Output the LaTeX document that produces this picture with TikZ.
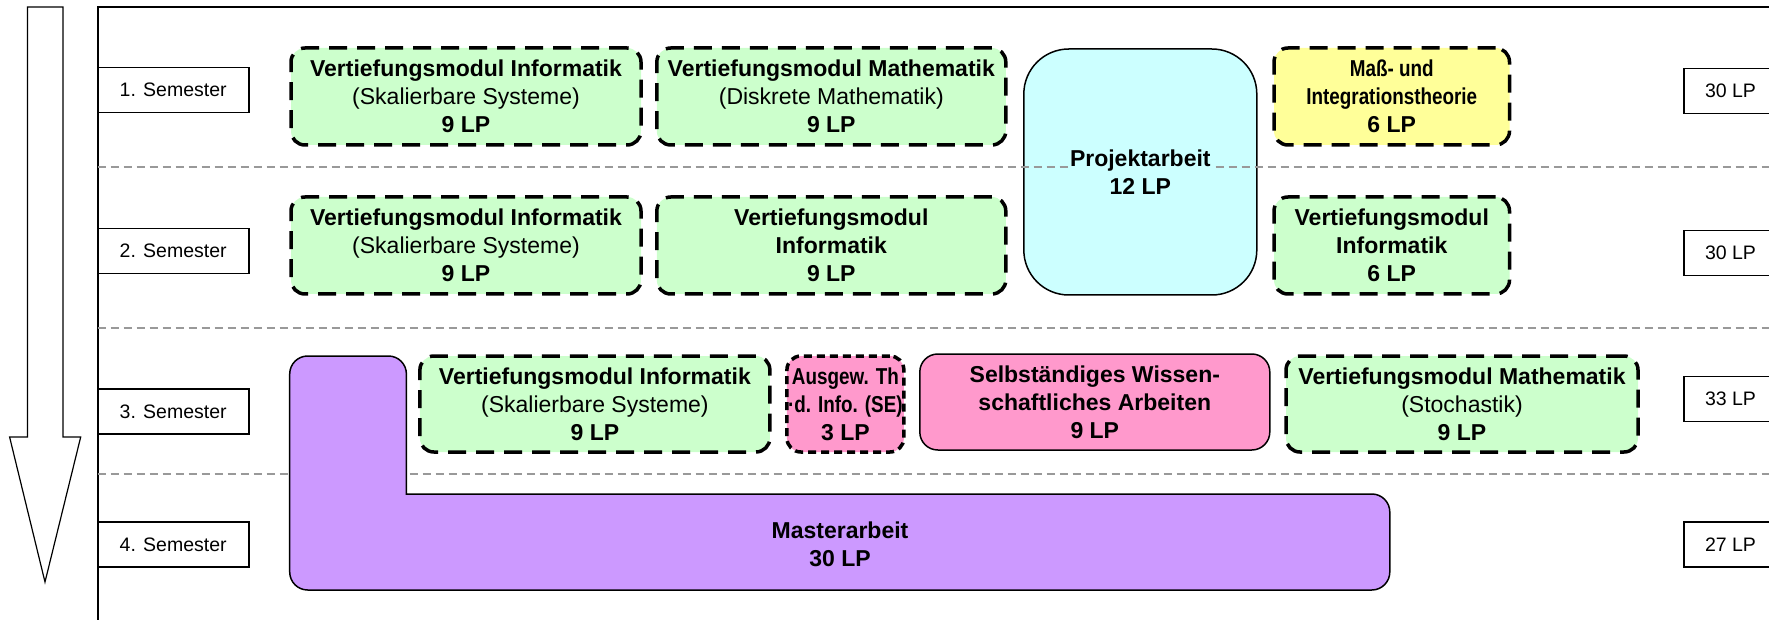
\documentclass[tikz,border=0pt]{standalone}
\usepackage{fontspec}
\setmainfont{Liberation Sans}
\newfontfamily\narrowfont[FakeStretch=0.82]{Liberation Sans}
\definecolor{modgreen}{HTML}{CCFFCC}
\definecolor{modyellow}{HTML}{FFFF99}
\definecolor{modcyan}{HTML}{CCFFFF}
\definecolor{modpink}{HTML}{FF99CC}
\definecolor{modpurple}{HTML}{CC99FF}
\definecolor{sepgray}{HTML}{999999}
\newcommand\modfont{\fontsize{23}{28}\selectfont\bfseries}
\newcommand\lblfont{\fontsize{19.5}{23}\selectfont}
\tikzset{
  dmod/.style={draw=black, line width=3.5pt, dash pattern=on 18pt off 10pt,
    rounded corners=14pt, align=center, inner sep=0pt, font=\modfont, minimum height=97pt},
  dmodsmall/.style={dmod, dash pattern=on 8pt off 5pt},
  smod/.style={draw=black, line width=1.5pt, align=center, inner sep=0pt, font=\modfont},
  lbl/.style={draw=black, line width=1.8pt, fill=white, inner sep=0pt, font=\lblfont, minimum height=45pt},
  sepline/.style={draw=sepgray, line width=1.5pt, dash pattern=on 8pt off 5pt},
  frameline/.style={line width=2pt},
}
\begin{document}
\begin{tikzpicture}[x=1pt,y=-1pt]
\useasboundingbox (0,0) rectangle (1769,620);
% arrow
\draw[line width=1.2pt, fill=white] (27.5,7) -- (63,7) -- (63,437) -- (80.7,437) -- (45,582) -- (9.6,437) -- (27.5,437) -- cycle;
% frame
\draw[frameline] (97.6,630) -- (97.6,6.7) -- (1780,6.7);
% Projektarbeit box (under separators)
\node[smod, fill=modcyan, rounded corners=45pt, minimum width=233pt, minimum height=246pt] (proj) at (1140.3,172) {};
% separators
\coordinate (s1l) at (97.6,167); \coordinate (s1r) at (1769,167);
\coordinate (s2l) at (97.6,328); \coordinate (s2r) at (1769,328);
\coordinate (s3l) at (97.6,474); \coordinate (s3r) at (1769,474);
\draw[sepline] (s1l) -- (s1r);
\draw[sepline] (s2l) -- (s2r);
\draw[sepline] (s3l) -- (s3r);
\node[font=\modfont, fill=modcyan, inner sep=1pt, align=center] (projtext) at (proj.center) {Projektarbeit\\12 LP};
% semester labels
\node[lbl, minimum width=151pt] (sem1) at (173.2,90) {1. Semester};
\node[lbl, minimum width=151pt] (sem2) at (173.2,251) {2. Semester};
\node[lbl, minimum width=151pt] (sem3) at (173.2,411.5) {3. Semester};
\node[lbl, minimum width=151pt] (sem4) at (173.2,544.5) {4. Semester};
% LP labels
\node[lbl, minimum width=93pt] (lp1) at (1730.5,91) {30 LP};
\node[lbl, minimum width=93pt] (lp2) at (1730.5,253) {30 LP};
\node[lbl, minimum width=93pt] (lp3) at (1730.5,399) {33 LP};
\node[lbl, minimum width=93pt] (lp4) at (1730.5,544.5) {27 LP};
% row 1
\node[dmod, fill=modgreen, minimum width=350pt] (m11) at (466,96.5)
  {Vertiefungsmodul Informatik\\{\mdseries (Skalierbare Systeme)}\\9 LP};
\node[dmod, fill=modgreen, minimum width=349pt] (m12) at (831.3,96.5)
  {Vertiefungsmodul Mathematik\\{\mdseries (Diskrete Mathematik)}\\9 LP};
\node[dmod, fill=modyellow, minimum width=235.5pt] (m14) at (1391.75,96.5)
  {{\narrowfont Maß- und}\\{\narrowfont Integrationstheorie}\\6 LP};
% row 2
\node[dmod, fill=modgreen, minimum width=350pt] (m21) at (466,245.5)
  {Vertiefungsmodul Informatik\\{\mdseries (Skalierbare Systeme)}\\9 LP};
\node[dmod, fill=modgreen, minimum width=349pt] (m22) at (831.3,245.5)
  {Vertiefungsmodul\\Informatik\\9 LP};
\node[dmod, fill=modgreen, minimum width=235.5pt] (m24) at (1391.75,245.5)
  {Vertiefungsmodul\\Informatik\\6 LP};
% Masterarbeit (L shape)
\draw[fill=modpurple, line width=1.5pt, rounded corners=18pt, line cap=rect]
  (406.4,494) -- (1389.8,494) -- (1389.8,590) -- (289.7,590) -- (289.7,356) -- (406.4,356) -- (406.4,494);
\node[font=\modfont, align=center] (ma) at (840,544) {Masterarbeit\\30 LP};
% row 3
\node[dmod, fill=modgreen, minimum width=350pt, minimum height=96pt] (m31) at (594.9,404)
  {Vertiefungsmodul Informatik\\{\mdseries (Skalierbare Systeme)}\\9 LP};
\node[dmodsmall, fill=modpink, minimum width=117pt, minimum height=96pt] (m32) at (845.4,404)
  {{\narrowfont Ausgew. Th}\\{\narrowfont ·d. Info. (SE)}\\3 LP};
\node[smod, fill=modpink, rounded corners=18pt, minimum width=350pt, minimum height=96pt] (m33) at (1094.8,402)
  {Selbständiges Wissen-\\schaftliches Arbeiten\\9 LP};
\node[dmod, fill=modgreen, minimum width=352pt, minimum height=96pt] (m34) at (1462,404)
  {Vertiefungsmodul Mathematik\\{\mdseries (Stochastik)}\\9 LP};
\end{tikzpicture}
\end{document}
